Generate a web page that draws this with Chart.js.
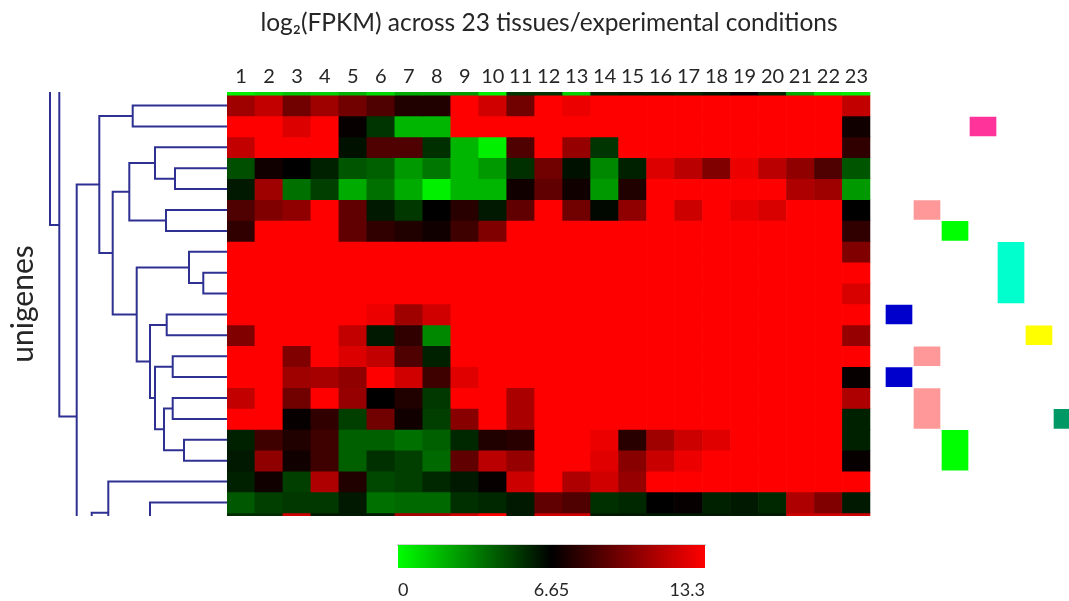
<!DOCTYPE html>
<html>
<head>
<meta charset="utf-8">
<script src="https://cdn.jsdelivr.net/npm/chart.js@4.4.0/dist/chart.umd.min.js"></script>
<style>
  html, body { margin: 0; padding: 0; background: #fff; overflow: hidden; }
  body { width: 1069px; height: 601px; position: relative; }
  canvas { position: absolute; }
</style>
</head>
<body>
<canvas id="tree" width="227" height="516" style="left:0px;top:0px"></canvas>
<canvas id="heat" width="644" height="516" style="left:227px;top:0px"></canvas>
<canvas id="modules" width="210" height="516" style="left:871px;top:0px"></canvas>
<canvas id="legend" width="350" height="71" style="left:380px;top:530px"></canvas>
<script>
// columns = tissues / conditions
const tissues = ['1','2','3','4','5','6','7','8','9','10','11','12','13','14','15','16','17','18','19','20','21','22','23'];
const expressionMax = 13.3;
const colorTicks = [0, 6.65, 13.3];

// log2(FPKM), one row per unigene (top to bottom)
const expression = [
  [10.8, 11.7, 9.6, 10.8, 9.6, 8.7, 7.5, 7.5, 13.3, 12.1, 9.6, 13.3, 12.8, 13.3, 13.3, 13.3, 13.3, 13.3, 13.3, 13.3, 13.3, 13.3, 11.7],
  [13.3, 13.3, 12.4, 13.3, 6.8, 5.3, 1.9, 1.9, 13.3, 13.3, 13.3, 13.3, 13.3, 13.3, 13.3, 13.3, 13.3, 13.3, 13.3, 13.3, 13.3, 13.3, 7.1],
  [11.7, 13.3, 13.3, 13.3, 6.2, 8.7, 8.7, 5.4, 1.9, 0.4, 8.7, 13.3, 10.6, 5.3, 13.3, 13.3, 13.3, 13.3, 13.3, 13.3, 13.3, 13.3, 7.9],
  [4.6, 7.1, 6.65, 5.8, 4.4, 4.15, 2.65, 3.55, 1.9, 2.65, 5.4, 9.6, 6.2, 3.1, 5.8, 12.4, 11.5, 10.0, 12.8, 11.5, 10.4, 8.7, 4.4],
  [6.0, 10.8, 3.7, 5.0, 2.2, 3.7, 2.2, 0.4, 1.9, 1.9, 7.1, 9.15, 7.1, 2.65, 7.5, 13.3, 13.3, 13.3, 13.3, 13.3, 11.2, 10.8, 2.65],
  [8.7, 10.0, 10.4, 13.3, 9.15, 6.0, 5.2, 6.65, 7.7, 6.0, 9.15, 13.3, 9.6, 6.45, 10.4, 13.3, 12.0, 13.3, 12.7, 12.3, 13.3, 13.3, 6.65],
  [7.9, 13.3, 13.3, 13.3, 9.15, 7.9, 7.5, 7.1, 8.3, 10.0, 13.3, 13.3, 13.3, 13.3, 13.3, 13.3, 13.3, 13.3, 13.3, 13.3, 13.3, 13.3, 7.9],
  [13.3, 13.3, 13.3, 13.3, 13.3, 13.3, 13.3, 13.3, 13.3, 13.3, 13.3, 13.3, 13.3, 13.3, 13.3, 13.3, 13.3, 13.3, 13.3, 13.3, 13.3, 13.3, 10.0],
  [13.3, 13.3, 13.3, 13.3, 13.3, 13.3, 13.3, 13.3, 13.3, 13.3, 13.3, 13.3, 13.3, 13.3, 13.3, 13.3, 13.3, 13.3, 13.3, 13.3, 13.3, 13.3, 13.3],
  [13.3, 13.3, 13.3, 13.3, 13.3, 13.3, 13.3, 13.3, 13.3, 13.3, 13.3, 13.3, 13.3, 13.3, 13.3, 13.3, 13.3, 13.3, 13.3, 13.3, 13.3, 13.3, 12.3],
  [13.3, 13.3, 13.3, 13.3, 13.3, 12.8, 10.8, 12.1, 13.3, 13.3, 13.3, 13.3, 13.3, 13.3, 13.3, 13.3, 13.3, 13.3, 13.3, 13.3, 13.3, 13.3, 13.3],
  [10.0, 13.3, 13.3, 13.3, 11.7, 6.0, 7.9, 3.1, 13.3, 13.3, 13.3, 13.3, 13.3, 13.3, 13.3, 13.3, 13.3, 13.3, 13.3, 13.3, 13.3, 13.3, 10.6],
  [13.3, 13.3, 10.0, 13.3, 12.4, 11.7, 8.7, 5.8, 13.3, 13.3, 13.3, 13.3, 13.3, 13.3, 13.3, 13.3, 13.3, 13.3, 13.3, 13.3, 13.3, 13.3, 13.3],
  [13.3, 13.3, 10.8, 11.0, 10.4, 13.3, 12.1, 8.3, 12.5, 13.3, 13.3, 13.3, 13.3, 13.3, 13.3, 13.3, 13.3, 13.3, 13.3, 13.3, 13.3, 13.3, 6.8],
  [11.7, 13.3, 9.6, 13.3, 10.6, 6.65, 7.5, 5.2, 13.3, 13.3, 11.1, 13.3, 13.3, 13.3, 13.3, 13.3, 13.3, 13.3, 13.3, 13.3, 13.3, 13.3, 11.2],
  [13.3, 13.3, 6.8, 7.9, 5.0, 9.6, 7.1, 5.0, 10.2, 13.3, 11.1, 13.3, 13.3, 13.3, 13.3, 13.3, 13.3, 13.3, 13.3, 13.3, 13.3, 13.3, 5.8],
  [5.8, 8.3, 7.5, 8.3, 4.15, 4.15, 3.7, 4.15, 5.6, 7.5, 7.7, 13.3, 13.3, 12.8, 7.7, 10.8, 12.0, 12.5, 13.3, 13.3, 13.3, 13.3, 5.8],
  [6.0, 10.4, 7.1, 8.3, 4.15, 5.4, 5.0, 3.9, 9.15, 11.5, 10.6, 13.3, 13.3, 12.5, 10.2, 11.9, 12.8, 13.3, 13.3, 13.3, 13.3, 13.3, 6.8],
  [5.8, 7.1, 5.0, 11.2, 7.5, 4.8, 5.0, 5.6, 6.0, 6.8, 12.0, 13.3, 11.2, 12.1, 10.6, 13.3, 13.3, 13.3, 13.3, 13.3, 13.3, 13.3, 13.3],
  [4.35, 5.0, 5.2, 5.2, 6.0, 3.7, 3.9, 3.9, 5.4, 5.6, 6.0, 9.15, 8.7, 5.4, 5.6, 6.65, 6.8, 5.8, 6.0, 5.6, 11.2, 10.0, 6.0]
];
// rows cut off by the figure edges (only a sliver shows)
const stripAbove = [0.4, 0.9, 1.5, 1.2, 2.0, 1.0, 2.2, 2.2, 2.6, 0.4, 5.3, 5.3, 1.2, 5.6, 5.8, 5.8, 5.6, 6.0, 6.65, 5.6, 2.2, 0.6, 0.4];
const stripBelow = [5.5, 5.5, 12.0, 6.0, 6.0, 6.0, 11.0, 11.0, 12.0, 13.3, 6.0, 12.0, 12.0, 6.0, 6.0, 6.0, 6.0, 6.0, 6.0, 6.0, 12.0, 12.0, 12.0];

// dendrogram merges (child A, child B, height)
const mergeA = ['r1','r4','r3','r6','m3','r9','r8','r11','r13','r15','r17','m10','m9','m8','m7','m5','m1','m17','xb','xa','r19','m21','r20'];
const mergeB = ['r2','r5','m2','r7','m4','r10','m6','r12','r14','r16','r18','m11','m12','m13','m14','m15','m16','xc','m18','m19','xd','xe','xf'];
const mergeHeight = [9.43, 5.2, 7.2, 6.1, 9.77, 2.37, 3.8, 6.03, 5.43, 5.43, 4.3, 6.3, 7.2, 7.7, 9.03, 11.43, 12.77, 15.03, 16.77, 17.7, 11.87, 13.53, 7.7];
// branches leading outside the cropped figure: name and row position
const cutNodes = ['xa','xb','xc','xd','xe','xf'];
const cutRowPos = [-20, -2.96, 26.5, 21.5, 26, 21.5];

// module colour blocks at the right
const moduleColors = ['#0000cc', '#ff9999', '#00ff00', '#ff3399', '#00ffcc', '#ffff00', '#009966'];
const blockModule = [3, 1, 2, 4, 0, 5, 1, 0, 1, 6, 2];
const blockFirstRow = [2, 6, 7, 8, 11, 12, 13, 14, 15, 16, 17];
const blockLastRow = [2, 6, 7, 10, 11, 12, 13, 14, 16, 16, 18];

const FONT = 'Lato, "Open Sans", sans-serif';
const TEXT = '#262626';
const ROW_MIN = -0.15, ROW_MAX = 20.15;

function colorFor(v) {
  const mid = expressionMax / 2;
  const t = Math.max(-1, Math.min(1, (v - mid) / mid));
  return t >= 0 ? 'rgb(' + Math.round(255 * t) + ',0,0)' : 'rgb(0,' + Math.round(-255 * t) + ',0)';
}

// heatmap
const allRows = [stripAbove].concat(expression, [stripBelow]);
const heatSets = allRows.map((vals, i) => ({
  data: vals.map(() => [i - 1, i]),
  backgroundColor: vals.map(colorFor),
  borderWidth: 0,
  barPercentage: 1,
  categoryPercentage: 1
}));

new Chart(document.getElementById('heat'), {
  type: 'bar',
  data: { labels: tissues, datasets: heatSets },
  options: {
    responsive: false,
    animation: false,
    layout: { padding: 0 },
    plugins: {
      legend: { display: false },
      tooltip: { enabled: false },
      title: {
        display: true,
        text: 'log\u2082(FPKM) across 23 tissues/experimental conditions',
        color: TEXT,
        font: { family: FONT, size: 24.5, weight: 'normal' },
        padding: { top: 8, bottom: 14.6 }
      }
    },
    scales: {
      x: {
        position: 'top',
        stacked: true,
        grid: { display: false, drawTicks: false },
        border: { display: false },
        ticks: { color: TEXT, font: { family: FONT, size: 20 }, padding: 3, autoSkip: false, maxRotation: 0 },
        afterFit: s => { s.height = 40; }
      },
      y: { type: 'linear', display: false, reverse: true, min: ROW_MIN, max: ROW_MAX, stacked: false }
    }
  }
});

// dendrogram
const nodePos = {};
for (let i = 1; i <= expression.length; i++) nodePos['r' + i] = { h: 0, y: i - 0.5 };
cutNodes.forEach((n, i) => { nodePos[n] = { h: 0, y: cutRowPos[i] }; });
const treeSets = mergeHeight.map((h, i) => {
  const a = nodePos[mergeA[i]], b = nodePos[mergeB[i]];
  nodePos['m' + (i + 1)] = { h: h, y: (a.y + b.y) / 2 };
  return {
    data: [{ x: a.h, y: a.y }, { x: h, y: a.y }, { x: h, y: b.y }, { x: b.h, y: b.y }],
    showLine: true,
    borderColor: '#2e3192',
    borderWidth: 2,
    pointRadius: 0,
    tension: 0,
    fill: false
  };
});

new Chart(document.getElementById('tree'), {
  type: 'scatter',
  data: { datasets: treeSets },
  options: {
    responsive: false,
    animation: false,
    layout: { padding: { top: 92 } },
    plugins: { legend: { display: false }, tooltip: { enabled: false } },
    scales: {
      x: { type: 'linear', display: false, reverse: true, min: 0, max: 18.7 },
      y: {
        type: 'linear', reverse: true, min: ROW_MIN, max: ROW_MAX,
        grid: { display: false, drawTicks: false },
        border: { display: false },
        ticks: { display: false },
        title: { display: true, text: 'unigenes', color: TEXT, font: { family: FONT, size: 30 }, padding: { top: 5, bottom: 0 } },
        afterFit: s => { s.width = 40; }
      }
    }
  }
});

// module blocks
const moduleLabels = moduleColors.map((c, i) => 'M' + (i + 1));
const blockSets = blockModule.map((m, i) => ({
  data: moduleLabels.map((_, j) => j === m ? [blockFirstRow[i] - 1, blockLastRow[i]] : null),
  backgroundColor: moduleColors[m],
  borderColor: '#ffffff',
  borderWidth: 1,
  borderSkipped: false,
  barPercentage: 1,
  categoryPercentage: 1
}));

new Chart(document.getElementById('modules'), {
  type: 'bar',
  data: { labels: moduleLabels, datasets: blockSets },
  options: {
    responsive: false,
    animation: false,
    layout: { padding: { top: 92, left: 14 } },
    plugins: { legend: { display: false }, tooltip: { enabled: false } },
    scales: {
      x: { display: false, stacked: true },
      y: { type: 'linear', display: false, reverse: true, min: ROW_MIN, max: ROW_MAX, stacked: false }
    }
  }
});

// colour key
new Chart(document.getElementById('legend'), {
  type: 'bar',
  data: {
    labels: ['key'],
    datasets: [{
      data: [[colorTicks[0], colorTicks[colorTicks.length - 1]]],
      backgroundColor: c => {
        const a = c.chart.chartArea;
        if (!a) return '#000';
        const g = c.chart.ctx.createLinearGradient(a.left, 0, a.right, 0);
        colorTicks.forEach(v => g.addColorStop(v / expressionMax, colorFor(v)));
        return g;
      },
      borderWidth: 0,
      barPercentage: 1,
      categoryPercentage: 1
    }]
  },
  options: {
    indexAxis: 'y',
    responsive: false,
    animation: false,
    layout: { padding: { top: 13, left: 18, right: 25 } },
    plugins: { legend: { display: false }, tooltip: { enabled: false } },
    scales: {
      y: { display: false },
      x: {
        type: 'linear', position: 'bottom', min: 0, max: expressionMax,
        afterBuildTicks: s => { s.ticks = colorTicks.map(v => ({ value: v })); },
        grid: { display: false, drawTicks: false },
        border: { display: false },
        ticks: { align: 'inner', padding: 11, color: TEXT, font: { family: FONT, size: 18 }, callback: v => String(v) },
        afterFit: s => { s.height = 33; }
      },
      x2: {
        type: 'linear', axis: 'x', position: 'top', min: 0, max: expressionMax,
        grid: { display: false, drawTicks: false },
        border: { display: true, color: '#d4d4d4', width: 2 },
        ticks: { display: false },
        afterFit: s => { s.height = 2; }
      }
    }
  }
});
</script>
</body>
</html>
